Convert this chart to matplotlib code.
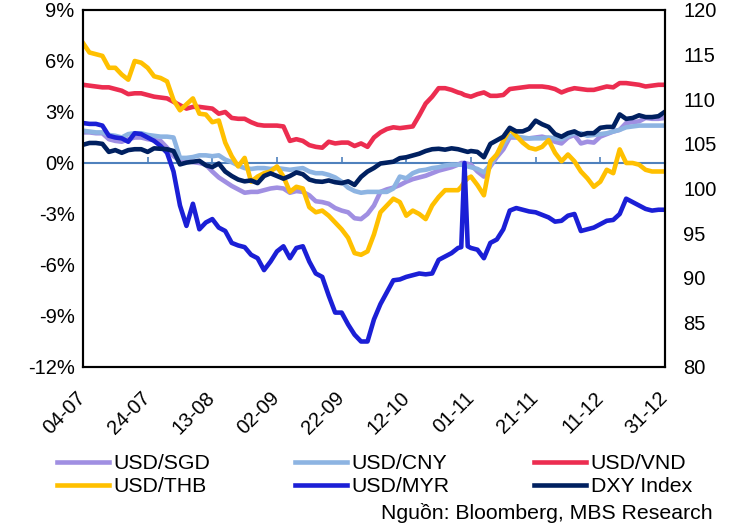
import pandas as pd
import matplotlib.pyplot as plt
import matplotlib.dates as mdates
from matplotlib.transforms import ScaledTranslation

plt.rcParams['font.family'] = ['Liberation Sans', 'DejaVu Sans']

# Trục thời gian: số ngày tính từ 04-07-2024
START = pd.Timestamp("2024-07-04")
DAYS = list(range(0, 117, 2)) + [117, 118, 119] + list(range(120, 181, 2))
TICK_DAYS = list(range(0, 181, 20))
TICK_LABELS = ["04-07", "24-07", "13-08", "02-09", "22-09",
               "12-10", "01-11", "21-11", "11-12", "31-12"]

# Biến động từ đầu năm (%), trục trái
usd_sgd = [1.8, 1.8, 1.75, 1.75, 1.4, 1.3, 1.25, 1.4, 1.5, 1.5,
           1.4, 1.35, 1.3, 0.9, 0.4, 0.15, 0.15, 0.05, 0.0, -0.1,
           -0.5, -0.85, -1.1, -1.35, -1.55, -1.75, -1.7, -1.7, -1.6, -1.5,
           -1.45, -1.5, -1.75, -1.65, -1.7, -1.9, -2.25, -2.3, -2.4, -2.65,
           -2.8, -2.9, -3.25, -3.3, -3.0, -2.5, -1.7, -1.55, -1.45, -1.3,
           -1.1, -0.95, -0.85, -0.75, -0.6, -0.45, -0.35, -0.25, -0.1, 0.0,
           0.0, -0.05, -0.1, -0.5, -0.8, -0.2, 0.35, 0.8, 1.5, 1.5,
           1.45, 1.45, 1.5, 1.55, 1.45, 1.25, 1.15, 1.5, 1.65, 1.15,
           1.25, 1.2, 1.55, 1.7, 1.85, 1.95, 2.35, 2.4, 2.45, 2.65,
           2.6, 2.6, 2.65]
usd_cny = [1.9, 1.85, 1.8, 1.8, 1.65, 1.6, 1.5, 1.7, 1.75, 1.75,
           1.65, 1.6, 1.55, 1.55, 1.5, 0.3, 0.3, 0.35, 0.45, 0.45,
           0.4, 0.45, 0.2, 0.05, -0.15, -0.3, -0.35, -0.3, -0.3, -0.35,
           -0.3, -0.35, -0.4, -0.35, -0.3, -0.5, -0.6, -0.6, -0.7, -0.85,
           -1.1, -1.45, -1.65, -1.75, -1.7, -1.7, -1.7, -1.7, -1.5, -0.8,
           -0.9, -0.6, -0.45, -0.4, -0.3, -0.25, -0.15, -0.1, -0.1, -0.1,
           -0.15, -0.2, -0.25, -0.35, -0.55, -0.1, 0.5, 1.1, 1.6, 1.55,
           1.5, 1.45, 1.45, 1.45, 1.5, 1.45, 1.4, 1.6, 1.75, 1.75,
           1.6, 1.65, 1.7, 1.75, 1.85, 1.95, 2.1, 2.15, 2.2, 2.2,
           2.2, 2.2, 2.2]
usd_vnd = [4.6, 4.55, 4.5, 4.45, 4.45, 4.35, 4.25, 4.05, 4.1, 4.1,
           4.0, 3.9, 3.85, 3.8, 3.6, 3.4, 3.2, 3.3, 3.3, 3.25,
           3.2, 2.9, 3.0, 2.65, 2.6, 2.6, 2.4, 2.25, 2.2, 2.2,
           2.2, 2.15, 1.3, 1.4, 1.3, 1.05, 0.95, 0.9, 1.25, 1.15,
           1.2, 1.2, 1.0, 1.15, 0.95, 1.5, 1.8, 2.0, 2.1, 2.05,
           2.1, 2.15, 2.8, 3.5, 3.9, 4.4, 4.4, 4.3, 4.15, 4.1,
           4.0, 3.95, 3.9, 4.05, 4.15, 3.95, 3.95, 4.0, 4.35, 4.4,
           4.45, 4.5, 4.5, 4.5, 4.45, 4.35, 4.15, 4.3, 4.4, 4.35,
           4.3, 4.3, 4.4, 4.5, 4.45, 4.7, 4.7, 4.65, 4.6, 4.5,
           4.55, 4.6, 4.6]
usd_thb = [7.06, 6.5, 6.4, 6.3, 5.6, 5.6, 5.2, 4.9, 6.0, 5.9,
           5.6, 5.1, 5.0, 4.8, 3.7, 3.1, 3.45, 3.8, 2.9, 2.85,
           2.4, 2.5, 1.2, 0.4, -0.2, 0.3, -1.1, -0.8, -0.6, -0.5,
           -0.2, -0.8, -1.7, -1.4, -1.5, -2.6, -2.9, -2.8, -3.1, -3.5,
           -3.9, -4.4, -5.3, -5.4, -5.2, -4.2, -2.9, -2.5, -2.1, -2.3,
           -3.1, -2.8, -3.0, -3.3, -2.5, -2.0, -1.6, -1.6, -1.6, -1.4,
           -1.1, -0.9, -0.8, -1.3, -1.9, 0.1, 0.5, 1.3, 2.0, 1.6,
           1.2, 0.9, 0.8, 0.95, 1.35, 0.6, 0.1, 0.5, 0.1, -0.5,
           -0.9, -1.4, -1.1, -0.4, -0.6, 0.8, 0.0, 0.0, -0.1, -0.4,
           -0.5, -0.5, -0.5]
usd_myr = [2.35, 2.3, 2.3, 2.2, 1.6, 1.5, 1.45, 1.25, 1.75, 1.7,
           1.5, 1.3, 1.0, 0.6, -0.5, -2.5, -3.7, -2.4, -3.9, -3.5,
           -3.3, -3.8, -4.0, -4.7, -4.85, -4.95, -5.4, -5.6, -6.3, -5.8,
           -5.2, -4.9, -5.6, -5.0, -4.9, -5.8, -6.5, -6.7, -7.8, -8.8,
           -8.8, -9.5, -10.1, -10.5, -10.5, -9.2, -8.3, -7.6, -6.9, -6.85,
           -6.7, -6.6, -6.5, -6.55, -6.5, -5.7, -5.5, -5.3, -5.0, -4.95,
           0.0, -4.9, -5.0, -5.1, -5.6, -4.7, -4.5, -3.9, -2.8, -2.65,
           -2.75, -2.85, -2.9, -3.05, -3.2, -3.45, -3.4, -3.1, -3.0, -4.0,
           -3.9, -3.8, -3.6, -3.4, -3.35, -3.0, -2.1, -2.3, -2.5, -2.7,
           -2.8, -2.75, -2.75]
# Chỉ số DXY, trục phải
dxy = [104.9, 105.1, 105.1, 105.0, 104.1, 104.3, 104.0, 104.3, 104.4, 104.4,
       104.1, 104.5, 104.45, 104.4, 104.2, 102.7, 102.9, 103.0, 103.1, 102.6,
       102.4, 102.8, 101.9, 101.4, 101.0, 100.8, 100.9, 100.6, 101.4, 101.7,
       101.4, 101.1, 101.4, 101.8, 101.6, 101.0, 100.8, 100.75, 100.9, 100.7,
       100.6, 100.8, 100.4, 101.3, 101.9, 102.3, 102.8, 102.9, 103.0, 103.4,
       103.5, 103.7, 103.9, 104.2, 104.4, 104.45, 104.35, 104.5, 104.4, 104.3,
       104.2, 104.1, 104.2, 104.1, 103.5, 105.0, 105.4, 105.8, 106.8, 106.4,
       106.4, 106.7, 107.6, 107.2, 106.9, 106.1, 105.8, 106.2, 106.4, 106.0,
       106.2, 106.2, 106.8, 106.9, 106.9, 108.3, 107.8, 107.9, 108.2, 108.0,
       108.0, 108.1, 108.6]

dates = START + pd.to_timedelta(DAYS, unit="D")
tick_dates = START + pd.to_timedelta(TICK_DAYS, unit="D")

FS = 14.5
FS_LEG = 15.3
LW = 3.3
ZERO_C = "#4F81BD"

fig = plt.figure(figsize=(7.35, 5.26), dpi=100)
ax = fig.add_axes([0.1129, 0.3023, 0.7918, 0.6787])
ax2 = ax.twinx()

l_sgd, = ax.plot(dates, usd_sgd, color="#A08FE2", lw=LW, label="USD/SGD")
l_cny, = ax.plot(dates, usd_cny, color="#8DB4E2", lw=LW, label="USD/CNY")
l_vnd, = ax.plot(dates, usd_vnd, color="#EC2D50", lw=LW, label="USD/VND")
l_thb, = ax.plot(dates, usd_thb, color="#FFC000", lw=LW, label="USD/THB")
l_myr, = ax.plot(dates, usd_myr, color="#1B1FD6", lw=LW, label="USD/MYR")
l_dxy, = ax2.plot(dates, dxy, color="#002060", lw=LW, label="DXY Index")

# trục ngang tại 0%
zero = ax.secondary_xaxis(12 / 21)
zero.set_xticks(mdates.date2num(tick_dates))
zero.tick_params(axis="x", length=4, width=1.2, color=ZERO_C,
                 labeltop=False, labelbottom=False)
for s in zero.spines.values():
    s.set_color(ZERO_C)
    s.set_linewidth(1.5)

ax.set_xlim(tick_dates[0], tick_dates[-1])
ax.set_ylim(-12, 9)
ax.set_yticks(range(-12, 10, 3))
ax.set_yticklabels([f"{v}%" for v in range(-12, 10, 3)])
ax2.set_ylim(80, 120)
ax2.set_yticks(range(80, 121, 5))

ax.set_xticks(tick_dates)
ax.set_xticklabels(TICK_LABELS)
shift = ScaledTranslation(4 / 100, 0, fig.dpi_scale_trans)
for lab in ax.get_xticklabels():
    lab.set_rotation(45)
    lab.set_ha("right")
    lab.set_va("center")
    lab.set_rotation_mode("anchor")
    lab.set_transform(lab.get_transform() + shift)
ax.tick_params(axis="x", length=0, pad=20, labelsize=FS)
ax.tick_params(axis="y", length=0, pad=6, labelsize=FS)
ax2.tick_params(axis="y", length=0, pad=13, labelsize=FS)

for a in (ax, ax2):
    for s in a.spines.values():
        s.set_color("black")
        s.set_linewidth(1.5)

handles = [l_sgd, l_thb, l_cny, l_myr, l_vnd, l_dxy]
fig.legend(handles=handles, labels=[h.get_label() for h in handles],
           loc="upper left", bbox_to_anchor=(0.077, 0.137), ncol=3,
           frameon=False, fontsize=FS_LEG, handlelength=2.45, handletextpad=0.2,
           columnspacing=4.0, labelspacing=0.2, borderpad=0, borderaxespad=0)

fig.text(0.969, 0.025, "Nguồn: Bloomberg, MBS Research", ha="right",
         va="center", fontsize=FS_LEG)

fig.savefig("out.png", dpi=100)
